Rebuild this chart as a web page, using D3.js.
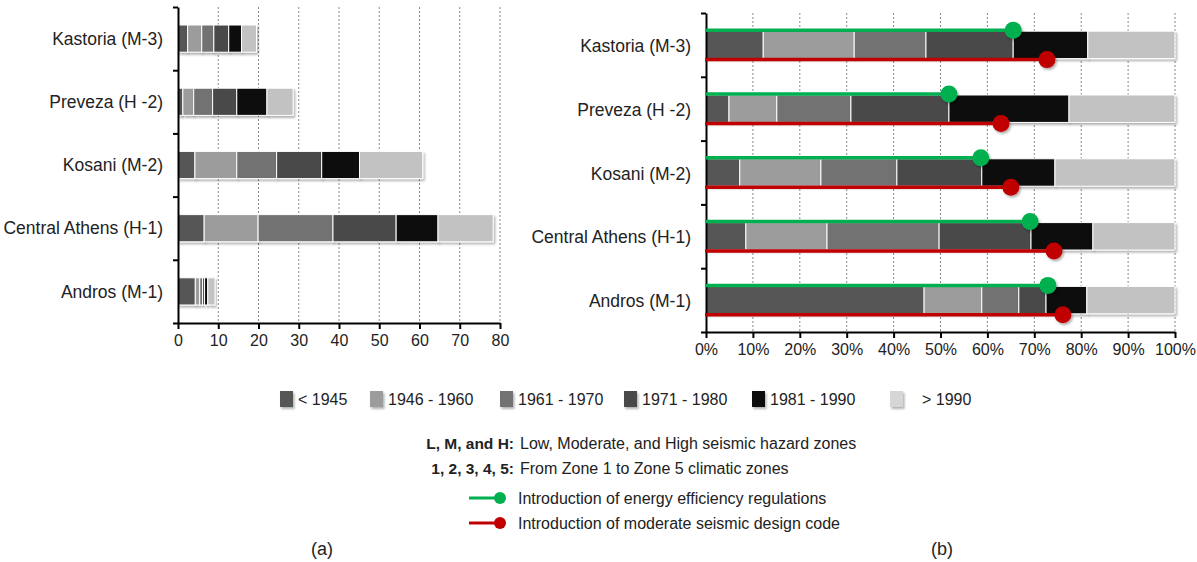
<!DOCTYPE html>
<html>
<head>
<meta charset="utf-8">
<script src="https://cdn.jsdelivr.net/npm/d3@7"></script>
<style>
  body { margin: 0; background: #fff; }
  svg { font-family: "Liberation Sans", Arial, sans-serif; }
</style>
</head>
<body>
<svg id="chart" width="1197" height="562"></svg>
<script>
// building stock per construction period
var cities = ["Kastoria (M-3)", "Preveza (H -2)", "Kosani (M-2)", "Central Athens (H-1)", "Andros (M-1)"];
var periods = ["< 1945", "1946 - 1960", "1961 - 1970", "1971 - 1980", "1981 - 1990", "> 1990"];
var periodColors = ["#565656", "#9c9c9c", "#727272", "#494949", "#0f0f0f", "#c2c2c2"];

// (a) absolute numbers, one row per city, one value per period
var stockCounts = [
    [2.4, 3.5, 3.0, 3.7, 3.2, 3.7],
    [1.2, 2.7, 4.7, 6.0, 7.5, 6.5],
    [4.2, 10.4, 9.9, 11.2, 9.4, 15.7],
    [6.5, 13.4, 18.6, 15.7, 10.4, 13.7],
    [4.3, 1.1, 0.7, 0.5, 0.8, 1.8]
];
// (b) shares in %
var stockShares = [
    [12.2, 19.4, 15.3, 18.6, 15.9, 18.6],
    [4.9, 10.2, 15.8, 20.9, 25.6, 22.6],
    [7.2, 17.3, 16.2, 18.1, 15.6, 25.6],
    [8.5, 17.3, 23.9, 19.6, 13.2, 17.5],
    [46.5, 12.3, 7.9, 5.8, 8.7, 18.8]
];
var energyReg = [65.5, 51.8, 58.6, 69.1, 72.9];
var seismicCode = [72.7, 62.9, 65.0, 74.2, 76.1];

var ticksA = [0, 10, 20, 30, 40, 50, 60, 70, 80];
var ticksB = [0, 10, 20, 30, 40, 50, 60, 70, 80, 90, 100];

var svg = d3.select("#chart");

var defs = svg.append("defs");
var f = defs.append("filter").attr("id", "shadow")
    .attr("x", "-10%").attr("y", "-30%").attr("width", "130%").attr("height", "180%");
f.append("feDropShadow").attr("dx", 1.5).attr("dy", 2).attr("stdDeviation", 1.2)
    .attr("flood-color", "#000").attr("flood-opacity", 0.3);

// stack rows into segments
function segments(rows){
    var out = [];
    rows.forEach(function(row, i){
        var acc = 0;
        row.forEach(function(v, j){
            out.push({city: cities[i], k: j, x0: acc, x1: acc + v});
            acc += v;
        });
    });
    return out;
}

function drawPanel(opt){
    var g = svg.append("g");
    var x = d3.scaleLinear().domain(opt.domain).range([opt.left, opt.right]);
    var y = d3.scaleBand().domain(cities).range([opt.top, opt.bottom]).paddingInner(0.57).paddingOuter(0.285);

    // dotted grid
    g.selectAll(".grid").data(opt.ticks.slice(1)).enter().append("line")
        .attr("x1", function(d){ return x(d); }).attr("x2", function(d){ return x(d); })
        .attr("y1", opt.top).attr("y2", opt.bottom)
        .attr("stroke", "#8a8a8a").attr("stroke-width", 1).attr("stroke-dasharray", "2,2");

    // bars
    g.selectAll(".seg").data(segments(opt.rows)).enter().append("rect")
        .attr("x", function(d){ return x(d.x0); })
        .attr("width", function(d){ return x(d.x1) - x(d.x0); })
        .attr("y", function(d){ return y(d.city); })
        .attr("height", y.bandwidth())
        .attr("fill", function(d){ return periodColors[d.k]; })
        .attr("stroke", "#fff").attr("stroke-width", 1)
        .attr("filter", "url(#shadow)");

    // x axis
    var ax = g.append("g").attr("transform", "translate(0," + opt.bottom + ")")
        .call(d3.axisBottom(x).tickValues(opt.ticks).tickSize(6).tickSizeOuter(0).tickPadding(6).tickFormat(opt.fmt));
    ax.select(".domain").attr("stroke", "#000").attr("stroke-width", 2);
    ax.selectAll(".tick line").attr("stroke", "#000").attr("stroke-width", 2);
    ax.selectAll("text").attr("font-size", 16).attr("fill", "#222").attr("font-family", "Liberation Sans, Arial, sans-serif");

    // y axis: ticks between categories
    var yb = d3.scaleLinear().domain([0, cities.length]).range([opt.top, opt.bottom]);
    var ay = g.append("g").attr("transform", "translate(" + opt.left + ",0)")
        .call(d3.axisLeft(yb).tickValues(d3.range(cities.length + 1)).tickSize(5).tickSizeOuter(0).tickFormat(""));
    ay.select(".domain").attr("stroke", "#000").attr("stroke-width", 2);
    ay.selectAll(".tick line").attr("stroke", "#000").attr("stroke-width", 2);

    g.selectAll(".lab").data(cities).enter().append("text")
        .attr("x", opt.left - 15)
        .attr("y", function(d){ return y(d) + y.bandwidth() / 2 + opt.labelShift; })
        .attr("text-anchor", "end").attr("dy", "0.35em")
        .attr("font-size", 17.5).attr("fill", "#222")
        .text(function(d){ return d; });

    return {x: x, y: y, g: g};
}

drawPanel({domain: [0, 80], left: 178, right: 500, top: 7, bottom: 323,
    ticks: ticksA, rows: stockCounts, fmt: d3.format("d"), labelShift: 0});

var pb = drawPanel({domain: [0, 100], left: 706, right: 1175, top: 13, bottom: 332,
    ticks: ticksB, rows: stockShares, fmt: function(d){ return d + "%"; }, labelShift: 1});

// regulation markers
function marker(vals, color, edge){
    var grp = pb.g.append("g");
    vals.forEach(function(v, i){
        var yy = pb.y(cities[i]) + (edge ? pb.y.bandwidth() + 1 : -1);
        grp.append("line").attr("x1", pb.x(0) - 1).attr("x2", pb.x(v))
            .attr("y1", yy).attr("y2", yy)
            .attr("stroke", color).attr("stroke-width", 3.5);
        grp.append("circle").attr("cx", pb.x(v)).attr("cy", yy).attr("r", 8.5)
            .attr("fill", color).attr("filter", "url(#shadow)");
    });
}
marker(energyReg, "#00b050", false);
marker(seismicCode, "#c00000", true);

// period legend
var legX = [280, 370, 500, 624, 752, 890];
var leg = svg.append("g").selectAll("g").data(periods).enter().append("g")
    .attr("transform", function(d, i){ return "translate(" + legX[i] + ",391)"; });
leg.append("rect").attr("width", 13).attr("height", 16)
    .attr("fill", function(d, i){ return i == 5 ? "#d6d6d6" : periodColors[i]; })
    .attr("filter", "url(#shadow)");
leg.append("text").attr("x", function(d, i){ return i == 5 ? 32 : 18; }).attr("y", 14)
    .attr("font-size", 16).attr("fill", "#222")
    .text(function(d){ return d; });

// notes
var notes = [["L, M, and H:", "Low, Moderate, and High seismic hazard zones"],
             ["1, 2, 3, 4, 5:", "From Zone 1 to Zone 5 climatic zones"]];
notes.forEach(function(n, i){
    svg.append("text").attr("x", 514).attr("y", 449 + i * 25).attr("text-anchor", "end")
        .attr("font-size", 15.5).attr("font-weight", "bold").attr("fill", "#222").text(n[0]);
    svg.append("text").attr("x", 520).attr("y", 449 + i * 25)
        .attr("font-size", 16).attr("fill", "#222").text(n[1]);
});

var lineLeg = [["#00b050", "Introduction of energy efficiency regulations"],
               ["#c00000", "Introduction of moderate seismic design code"]];
lineLeg.forEach(function(l, i){
    var yy = 498 + i * 25;
    svg.append("line").attr("x1", 469).attr("x2", 500).attr("y1", yy).attr("y2", yy)
        .attr("stroke", l[0]).attr("stroke-width", 3);
    svg.append("circle").attr("cx", 500).attr("cy", yy).attr("r", 6).attr("fill", l[0]);
    svg.append("text").attr("x", 518).attr("y", yy + 6)
        .attr("font-size", 16).attr("fill", "#222").text(l[1]);
});

svg.append("text").attr("x", 322).attr("y", 555).attr("text-anchor", "middle")
    .attr("font-size", 18).attr("fill", "#222").text("(a)");
svg.append("text").attr("x", 942).attr("y", 555).attr("text-anchor", "middle")
    .attr("font-size", 18).attr("fill", "#222").text("(b)");
</script>
</body>
</html>
